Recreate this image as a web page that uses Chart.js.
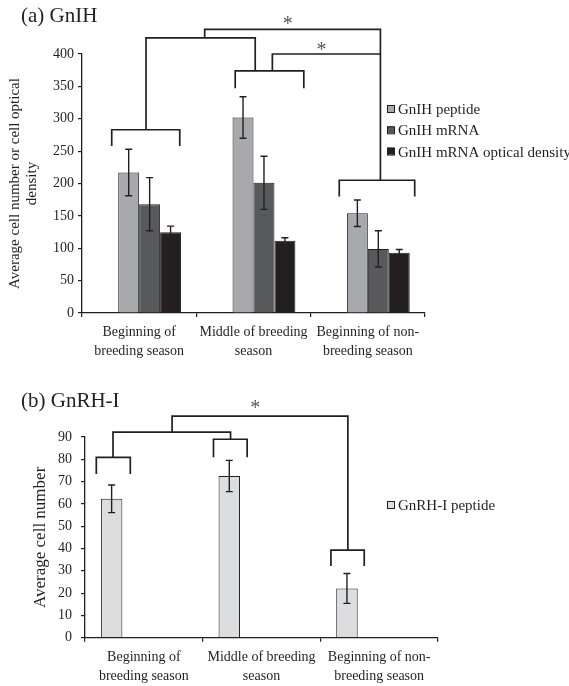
<!DOCTYPE html>
<html>
<head>
<meta charset="utf-8">
<script src="https://cdn.jsdelivr.net/npm/chart.js@4.4.1/dist/chart.umd.min.js"></script>
<style>
  html,body{margin:0;padding:0;background:#fff;}
  #wrap{position:relative;width:569px;height:686px;}
  .panel{position:absolute;left:0;width:569px;}
</style>
</head>
<body>
<div id="wrap">
  <div class="panel" style="top:0;height:365px"><canvas id="chartA"></canvas></div>
  <div class="panel" style="top:365px;height:321px"><canvas id="chartB"></canvas></div>
</div>
<script>
// ── Datos ──
const seasons = [
  ['Beginning of','breeding season'],
  ['Middle of breeding','season'],
  ['Beginning of non-','breeding season']
];

// (a) GnIH
const gnihPeptide     = [217, 302, 154];
const gnihPeptideErr  = [36, 32, 20.5];
const gnihMrna        = [168, 201, 99];
const gnihMrnaErr     = [41, 41, 28];
const gnihOD          = [124.6, 111.7, 93];
const gnihODErr       = [9.5, 4.6, 5];
const ticksA          = [0, 50, 100, 150, 200, 250, 300, 350, 400];

// (b) GnRH-I
const gnrhPeptide     = [62.3, 72.5, 22.1];
const gnrhPeptideErr  = [6.2, 7, 6.7];
const ticksB          = [0, 10, 20, 30, 40, 50, 60, 70, 80, 90];

const INK  = '#231f20';
const FONT = "'Liberation Serif', 'DejaVu Serif', serif";

// ── Anotaciones de significancia (x en unidades de categoría, y en valores) ──
const bracketsA = [
  {x0:-0.24, x1:0.355, top:283, leg:258},
  {x0: 0.84, x1:1.44,  top:374, leg:347},
  {x0: 1.75, x1:2.41,  top:205, leg:180},
];
const linksA = [
  [[0.06,283],[0.06,425],[1.015,425],[1.015,374]],
  [[0.573,425],[0.573,438],[2.11,438],[2.11,205]],
  [[1.165,374],[1.165,400],[2.11,400]],
];
const starsA = [[1.30,452],[1.594,411]];

const bracketsB = [
  {x0:-0.404, x1:-0.115, top:80.9, leg:73.4},
  {x0: 0.592, x1: 0.878, top:89,   leg:80.9},
  {x0: 1.59,  x1: 1.873, top:39.3, leg:32.2},
];
const linksB = [
  [[-0.262,80.9],[-0.262,92.2],[0.737,92.2],[0.737,89]],
  [[0.24,92.2],[0.24,99.4],[1.734,99.4],[1.734,39.3]],
];
const starsB = [[0.947,104.3]];

// ── Plugin: barras de error, corchetes, leyenda y título ──
function catX(xs, v){
  const c0 = xs.getPixelForValue(0), c1 = xs.getPixelForValue(1);
  return c0 + v*(c1-c0);
}

const annotPlugin = {
  id:'annot',
  afterDatasetsDraw(chart){
    const o = chart.options.plugins.annot;
    const ctx = chart.ctx, ys = chart.scales.y;
    ctx.save();
    ctx.strokeStyle = INK;
    ctx.lineWidth = 1.4;
    chart.data.datasets.forEach((ds,i)=>{
      if(!ds.err) return;
      chart.getDatasetMeta(i).data.forEach((bar,j)=>{
        const v = ds.data[j], e = ds.err[j];
        const yt = ys.getPixelForValue(v+e), yb = ys.getPixelForValue(v-e);
        ctx.beginPath();
        ctx.moveTo(bar.x, yt); ctx.lineTo(bar.x, yb);
        ctx.moveTo(bar.x-3.5, yt); ctx.lineTo(bar.x+3.5, yt);
        ctx.moveTo(bar.x-3.5, yb); ctx.lineTo(bar.x+3.5, yb);
        ctx.stroke();
      });
    });
    ctx.restore();
  },
  afterDraw(chart){
    const o = chart.options.plugins.annot;
    const ctx = chart.ctx, xs = chart.scales.x, ys = chart.scales.y;
    ctx.save();
    ctx.strokeStyle = INK;
    ctx.lineWidth = 1.7;
    ctx.lineJoin = 'miter';
    o.brackets.forEach(b=>{
      const xa = catX(xs,b.x0), xb = catX(xs,b.x1);
      const yt = ys.getPixelForValue(b.top), yl = ys.getPixelForValue(b.leg);
      ctx.beginPath();
      ctx.moveTo(xa, yl); ctx.lineTo(xa, yt); ctx.lineTo(xb, yt); ctx.lineTo(xb, yl);
      ctx.stroke();
    });
    o.links.forEach(path=>{
      ctx.beginPath();
      path.forEach(([x,y],k)=>{
        const px = catX(xs,x), py = ys.getPixelForValue(y);
        k ? ctx.lineTo(px,py) : ctx.moveTo(px,py);
      });
      ctx.stroke();
    });
    ctx.fillStyle = '#555';
    ctx.font = `20px ${FONT}`;
    ctx.textAlign = 'center';
    ctx.textBaseline = 'middle';
    o.stars.forEach(([x,y])=>{
      ctx.fillText('*', catX(xs,x), ys.getPixelForValue(y)+4);
    });

    // título del panel
    ctx.fillStyle = INK;
    ctx.textAlign = 'left';
    ctx.font = `21px ${FONT}`;
    ctx.fillText(o.title, 21, o.titleY);

    // leyenda
    ctx.font = `15px ${FONT}`;
    let row = 0;
    chart.data.datasets.forEach(ds=>{
      if(!ds.label) return;
      const y = o.legendY + row*o.legendStep;
      ctx.fillStyle = ds.backgroundColor;
      ctx.fillRect(o.legendX, y-4, 7, 7);
      ctx.lineWidth = 1;
      ctx.strokeRect(o.legendX+0.5, y-3.5, 7, 7);
      ctx.fillStyle = INK;
      ctx.fillText(ds.label, o.legendX+11, y+1);
      row++;
    });
    ctx.restore();
  }
};

function baseOptions(cfg){
  return {
    responsive:true,
    maintainAspectRatio:false,
    animation:false,
    layout:{ padding:{ left:0, right:cfg.padRight, top:cfg.padTop, bottom:0 } },
    datasets:{ bar:{ categoryPercentage:cfg.catPct, barPercentage:1, borderWidth:1, borderColor:INK } },
    plugins:{
      legend:{ display:false },
      tooltip:{ enabled:false },
      annot: cfg.annot
    },
    scales:{
      x:{
        grid:{ display:true, drawOnChartArea:false, drawTicks:true, tickLength:4, color:INK, lineWidth:1.2 },
        border:{ color:INK, width:1.3 },
        ticks:{ color:INK, font:{ family:FONT, size:14, lineHeight:1.35 }, padding:cfg.xPad, maxRotation:0, autoSkip:false },
        afterFit: s=>{ s.height = cfg.xHeight; }
      },
      y:{
        min:0, max:cfg.yMax,
        afterBuildTicks: s=>{ s.ticks = cfg.ticks.map(v=>({value:v})); },
        grid:{ display:true, drawOnChartArea:false, drawTicks:true, tickLength:4, color:INK, lineWidth:1.2 },
        border:{ color:INK, width:1.3 },
        ticks:{ color:INK, font:{ family:FONT, size:14 }, padding:cfg.yPad },
        title:{ display:true, text:cfg.yTitle, color:INK, font:{ family:FONT, size:cfg.yTitleSize, lineHeight:cfg.yTitleLH }, padding:{ top:cfg.yTitlePad, bottom:0 } },
        afterFit: s=>{ s.width = cfg.yWidth; }
      }
    }
  };
}

// ── (a) GnIH ──
new Chart(document.getElementById('chartA'), {
  type:'bar',
  data:{
    labels: seasons,
    datasets:[
      { label:'', data:[null,null,null] },
      { label:'GnIH peptide', data:gnihPeptide, err:gnihPeptideErr, backgroundColor:'#a7a9ac' },
      { label:'GnIH mRNA', data:gnihMrna, err:gnihMrnaErr, backgroundColor:'#58595b' },
      { label:'GnIH mRNA optical density', data:gnihOD, err:gnihODErr, backgroundColor:INK },
    ]
  },
  options: baseOptions({
    padRight:144, padTop:54, catPct:0.733, xPad:6, xHeight:52,
    yMax:400, ticks:ticksA, yPad:4, yWidth:82,
    yTitle:['Average cell number or cell optical','density'], yTitleSize:15, yTitleLH:1.17, yTitlePad:6,
    annot:{ brackets:bracketsA, links:linksA, stars:starsA, title:'(a) GnIH', titleY:16,
            legendX:387, legendY:109, legendStep:21.3 }
  }),
  plugins:[annotPlugin]
});

// ── (b) GnRH-I ──
new Chart(document.getElementById('chartB'), {
  type:'bar',
  data:{
    labels: seasons,
    datasets:[
      { label:'GnRH-I peptide', data:gnrhPeptide, err:gnrhPeptideErr, backgroundColor:'#dcddde' },
      { label:'', data:[null,null,null] },
      { label:'', data:[null,null,null] },
      { label:'', data:[null,null,null] },
    ]
  },
  options: baseOptions({
    padRight:131, padTop:72, catPct:0.73, xPad:6.5, xHeight:48.3,
    yMax:90, ticks:ticksB, yPad:9, yWidth:85,
    yTitle:'Average cell number', yTitleSize:17, yTitleLH:1.2, yTitlePad:30,
    annot:{ brackets:bracketsB, links:linksB, stars:starsB, title:'(b) GnRH-I', titleY:36,
            legendX:387, legendY:140, legendStep:21 }
  }),
  plugins:[annotPlugin]
});
</script>
</body>
</html>
